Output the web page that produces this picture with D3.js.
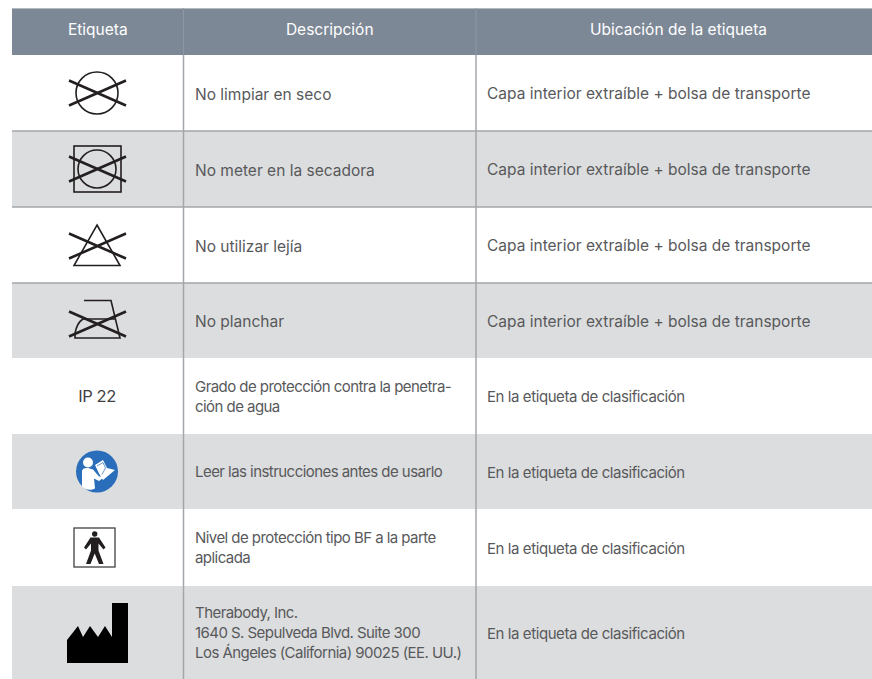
<!DOCTYPE html>
<html>
<head>
<meta charset="utf-8">
<script src="https://cdn.jsdelivr.net/npm/d3@7"></script>
<style>
  html, body { margin: 0; padding: 0; background: #fff; overflow: hidden; }
  text { font-family: Inter, "Noto Sans", sans-serif; }
</style>
</head>
<body>
<div id="chart"></div>
<script>
var headers = ["Etiqueta", "Descripción", "Ubicación de la etiqueta"];
var icons = ["dry", "tumble", "bleach", "iron", "ip", "read", "bf", "maker"];
var descriptions = [
  ["No limpiar en seco"],
  ["No meter en la secadora"],
  ["No utilizar lejía"],
  ["No planchar"],
  ["Grado de protección contra la penetra-", "ción de agua"],
  ["Leer las instrucciones antes de usarlo"],
  ["Nivel de protección tipo BF a la parte", "aplicada"],
  ["Therabody, Inc.", "1640 S. Sepulveda Blvd. Suite 300", "Los Ángeles (California) 90025 (EE. UU.)"]
];
var locations = [
  "Capa interior extraíble + bolsa de transporte",
  "Capa interior extraíble + bolsa de transporte",
  "Capa interior extraíble + bolsa de transporte",
  "Capa interior extraíble + bolsa de transporte",
  "En la etiqueta de clasificación",
  "En la etiqueta de clasificación",
  "En la etiqueta de clasificación",
  "En la etiqueta de clasificación"
];

var width = 872, height = 679;
var svg = d3.select("#chart").append("svg")
  .attr("width", width)
  .attr("height", height)
  .style("display", "block");

// column and row edges
var xEdge = d3.scaleOrdinal().domain(headers.concat("end")).range([12, 183.5, 476, 872]);
var yEdge = d3.scaleOrdinal().domain(icons.concat("end")).range([55, 131, 207, 283, 358, 434, 509, 586, 679]);
var rowH = function(d) { return yEdge(icons[icons.indexOf(d) + 1] || "end") - yEdge(d); };
var rowMid = function(d) { return yEdge(d) + rowH(d) / 2; };

var headBg = "#7d8896", greyBg = "#dcddde", lineCol = "#a3a6aa", textCol = "#58595b";

svg.append("rect").attr("x", 12).attr("y", 8).attr("width", 860).attr("height", 47).attr("fill", headBg);
svg.append("line").attr("x1", 12).attr("x2", 872).attr("y1", 8.5).attr("y2", 8.5).attr("stroke", "#b4b9c0");

svg.selectAll("rect.row")
  .data(icons)
  .enter()
  .append("rect")
    .attr("class", "row")
    .attr("x", 12)
    .attr("y", function(d) { return yEdge(d); })
    .attr("width", 860)
    .attr("height", rowH)
    .attr("fill", function(d, i) { return i % 2 ? greyBg : "#fff"; });

// rule under the first three rows only
svg.selectAll("line.rule")
  .data(icons.slice(1, 4))
  .enter()
  .append("line")
    .attr("class", "rule")
    .attr("x1", 12).attr("x2", 872)
    .attr("y1", function(d) { return yEdge(d); })
    .attr("y2", function(d) { return yEdge(d); })
    .attr("stroke", lineCol)
    .attr("stroke-width", 1.5);

svg.selectAll("line.col")
  .data(headers.slice(1))
  .enter()
  .append("line")
    .attr("class", "col")
    .attr("x1", xEdge).attr("x2", xEdge)
    .attr("y1", 55).attr("y2", height)
    .attr("stroke", lineCol)
    .attr("stroke-width", 1.5);
svg.selectAll("line.headcol")
  .data(headers.slice(1))
  .enter()
  .append("line")
    .attr("class", "headcol")
    .attr("x1", xEdge).attr("x2", xEdge)
    .attr("y1", 8).attr("y2", 55)
    .attr("stroke", "#8e98a4")
    .attr("stroke-width", 1);

// header labels
svg.selectAll("text.head")
  .data(headers)
  .enter()
  .append("text")
    .attr("class", "head")
    .attr("x", function(d, i) { return (xEdge(d) + xEdge(headers[i + 1] || "end")) / 2 + (i == 2 ? 4.5 : 0); })
    .attr("y", 34.5)
    .attr("text-anchor", "middle")
    .attr("fill", "#fff")
    .style("font-size", "15.5px")
    .style("font-weight", 400)
    .text(function(d) { return d; });

// description column, tighter setting from row 5 on
var descG = svg.selectAll("g.desc")
  .data(descriptions)
  .enter()
  .append("g")
    .attr("class", "desc");
descG.selectAll("text")
  .data(function(lines, i) {
    return lines.map(function(t, j) { return {t: t, j: j, n: lines.length, row: i}; });
  })
  .enter()
  .append("text")
    .attr("x", 195)
    .attr("y", function(d) {
      return rowMid(icons[d.row]) + (d.row < 4 ? 6.5 : 5.5) + (d.j - (d.n - 1) / 2) * 20;
    })
    .attr("fill", textCol)
    .style("font-size", function(d) { return d.row < 4 ? "15.5px" : "15px"; })
    .style("letter-spacing", function(d) { return d.row < 4 ? "0" : "-0.55px"; })
    .text(function(d) { return d.t; });

// location column
svg.selectAll("text.loc")
  .data(locations)
  .enter()
  .append("text")
    .attr("class", "loc")
    .attr("x", 487)
    .attr("y", function(d, i) { return rowMid(icons[i]) + 6; })
    .attr("fill", textCol)
    .style("font-size", function(d, i) { return i < 4 ? "15.5px" : "15px"; })
    .style("letter-spacing", function(d, i) { return i < 4 ? "0" : "-0.42px"; })
    .text(function(d) { return d; });

// icons, each drawn around the centre of its cell
var iconX = 97;
var cross = function(g, dy) {
  g.append("path")
    .attr("d", "M-28,-12.5L29,12.5M-28,12.5L29,-12.5")
    .attr("transform", "translate(0," + dy + ")")
    .attr("fill", "none")
    .attr("stroke", "#231f20")
    .attr("stroke-width", 2.6);
};
var thin = function(sel) {
  return sel.attr("fill", "none").attr("stroke", "#231f20").attr("stroke-width", 1.6);
};
var icon = {};
icon.dry = function(g) {
  thin(g.append("circle").attr("r", 21));
  cross(g, 0);
};
icon.tumble = function(g) {
  thin(g.append("rect").attr("x", -23).attr("y", -23).attr("width", 47).attr("height", 46));
  thin(g.append("circle").attr("r", 19));
  cross(g, 0);
};
icon.bleach = function(g) {
  thin(g.append("path").attr("d", "M0,-20L23,20.5L-23,20.5Z"));
  cross(g, 1);
};
icon.iron = function(g) {
  thin(g.append("path").attr("d", "M-13,-20H14L23,17.5H-22V13C-21,7 -18,1 -14,-1.5H18"));
  cross(g, 3.5);
};
icon.ip = function(g) {
  g.append("text")
    .attr("text-anchor", "middle")
    .attr("y", 6)
    .attr("fill", "#414042")
    .style("font-size", "16.5px")
    .style("letter-spacing", "-0.4px")
    .text("IP 22");
};
icon.read = function(g) {
  g.append("circle").attr("r", 21).attr("fill", "#2a6ebb");
  g.append("circle").attr("cx", -9).attr("cy", -9).attr("r", 5).attr("fill", "#fff");
  g.append("path")
    .attr("d", "M-15,0C-15,-3 -12,-4 -9,-3.5L-4,-2L2,5L8,5L2,9.5L-3,7L-2,17C-6,19 -11,19 -15,15Z")
    .attr("fill", "#fff");
  g.append("path")
    .attr("d", "M-2,-6.5L6,-11.5L10,-3.5L18,-1.5L6,8.5L2,2Z")
    .attr("fill", "#fff");
  g.append("path")
    .attr("d", "M0,-5.5L6,-9L8.5,-3.5L5,3")
    .attr("fill", "none")
    .attr("stroke", "#2a6ebb")
    .attr("stroke-width", 0.7);
};
icon.bf = function(g) {
  g.append("rect").attr("x", -23).attr("y", -19.5).attr("width", 41).attr("height", 39)
    .attr("fill", "#fff").attr("stroke", "#414042").attr("stroke-width", 1.3);
  g.append("circle").attr("cx", -2.3).attr("cy", -13.5).attr("r", 2.7).attr("fill", "#231f20");
  g.append("path")
    .attr("d", "M-6.5,-10H2L8.5,0L6.5,2L1.5,-4L1.5,3L6.5,16.5H2L-2.3,6L-6.5,16.5H-11L-6,3L-6,-4L-11,2L-13,0Z")
    .attr("fill", "#231f20");
};
icon.maker = function(g) {
  g.append("path")
    .attr("d", "M-30,7.5L-19,-6.5L-14,4.5L-7,-6.5L1,4.5L8,-6.5L15,4.5V-29.5H31V30.5H-30Z")
    .attr("fill", "#000");
};

svg.selectAll("g.icon")
  .data(icons)
  .enter()
  .append("g")
    .attr("class", "icon")
    .attr("transform", function(d) { return "translate(" + iconX + "," + rowMid(d) + ")"; })
    .each(function(d) { icon[d](d3.select(this)); });
</script>
</body>
</html>
